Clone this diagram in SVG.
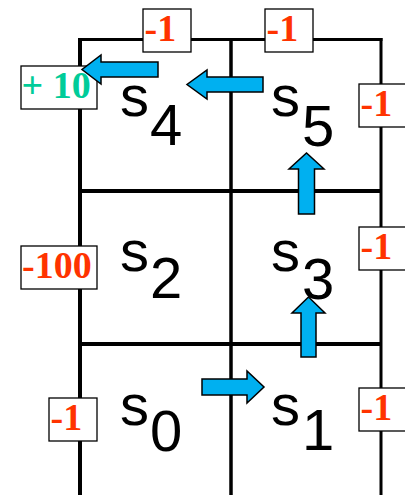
<svg xmlns="http://www.w3.org/2000/svg" width="405" height="495" viewBox="0 0 405 495">
<style>
.grid line{stroke:#000;stroke-linecap:butt}
.st{font-family:"Liberation Sans",Arial,sans-serif;fill:#000;font-size:58px}
.sub{font-size:58px}
.box{fill:#fff;stroke:#000;stroke-width:1.3}
.rw{font-family:"Liberation Serif","Times New Roman",serif;font-weight:bold;font-size:38px}
.neg{fill:#ff3300}
.pos{fill:#00cc99}
.arr{fill:#00b0f0;stroke:#000;stroke-width:1.5;stroke-linejoin:miter}
</style>
<rect width="405" height="495" fill="#fff"/>
<g id="grid" class="grid">
<line x1="80" y1="38" x2="80" y2="495" stroke-width="4"/>
<line x1="231" y1="38" x2="231" y2="495" stroke-width="3.5"/>
<line x1="381" y1="38" x2="381" y2="495" stroke-width="3"/>
<line x1="78" y1="39.5" x2="382.5" y2="39.5" stroke-width="3"/>
<line x1="80" y1="191" x2="381" y2="191" stroke-width="4"/>
<line x1="80" y1="344" x2="381" y2="344" stroke-width="4"/>
</g>
<g id="s4"><text class="st" x="120" y="116">s<tspan class="sub" x="150" y="145">4</tspan></text></g>
<g id="s5"><text class="st" x="271" y="116">s<tspan class="sub" x="302" y="146">5</tspan></text></g>
<g id="s2"><text class="st" x="120" y="271">s<tspan class="sub" x="150" y="298">2</tspan></text></g>
<g id="s3"><text class="st" x="271" y="271">s<tspan class="sub" x="302" y="299">3</tspan></text></g>
<g id="s0"><text class="st" x="120" y="425">s<tspan class="sub" x="150" y="451">0</tspan></text></g>
<g id="s1"><text class="st" x="271" y="425">s<tspan class="sub" x="302" y="450">1</tspan></text></g>
<g id="r-top-s4"><rect class="box" x="143" y="9" width="48" height="43"/><text class="rw neg" x="144.5" y="41">-1</text></g>
<g id="r-top-s5"><rect class="box" x="265" y="9" width="48" height="43"/><text class="rw neg" x="266.5" y="41">-1</text></g>
<g id="r-goal"><rect class="box" x="21" y="66" width="76" height="43"/><text class="rw pos" x="21.5" y="98">+ 10</text></g>
<g id="r-right-s5"><rect class="box" x="359" y="84" width="50" height="43"/><text class="rw neg" x="360.5" y="116">-1</text></g>
<g id="r-pit"><rect class="box" x="21" y="246" width="76" height="43"/><text class="rw neg" x="22" y="278">-100</text></g>
<g id="r-right-s3"><rect class="box" x="359" y="227" width="50" height="43"/><text class="rw neg" x="360.5" y="259">-1</text></g>
<g id="r-left-s0"><rect class="box" x="49" y="398" width="48" height="43"/><text class="rw neg" x="50.5" y="430">-1</text></g>
<g id="r-right-s1"><rect class="box" x="359" y="388" width="50" height="43"/><text class="rw neg" x="360.5" y="420">-1</text></g>
<g id="connectors">
<polygon class="arr" points="158,62 101,62 101,55 82,69.5 101,84 101,77 158,77"/>
<polygon class="arr" points="263,77 207,77 207,70 187,84.5 207,99 207,92 263,92"/>
<polygon class="arr" points="298.5,214 298.5,169 289,169 306.5,153 324,169 314.5,169 314.5,214"/>
<polygon class="arr" points="301,357 301,313 292,313 308.5,297 325,313 316,313 316,357"/>
<polygon class="arr" points="202,379 247,379 247,371 264,387 247,403 247,395 202,395"/>
</g>
</svg>
